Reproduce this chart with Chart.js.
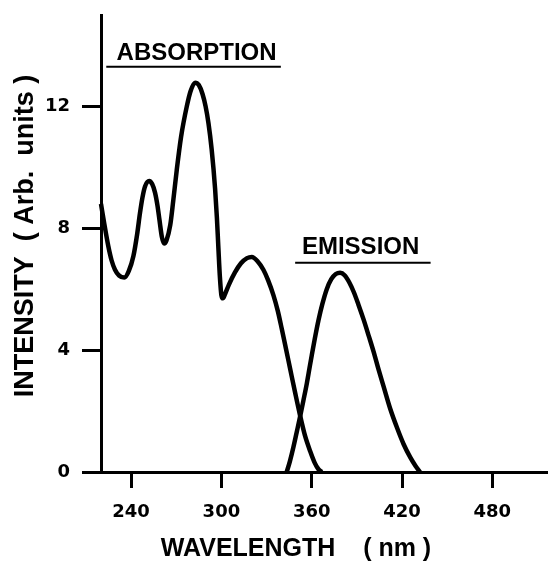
<!DOCTYPE html>
<html>
<head>
<meta charset="utf-8">
<script src="https://cdn.jsdelivr.net/npm/chart.js@4"></script>
<style>
  html, body { margin: 0; padding: 0; background: #fff; }
  #wrap { width: 548px; height: 567px; position: relative; }
</style>
</head>
<body>
<div id="wrap"><canvas id="grafico-espectro"></canvas></div>
<script>
// wavelength (nm) and intensity
var absWavelength = [220, 222, 224.9, 227, 229.3, 232, 235.5, 238.5, 241.5, 244, 245.9, 247.5, 249.3, 252, 254, 255.9, 257.5, 258.8, 260.5, 262, 263.5, 266, 268, 270.3, 273.2, 277, 279.5, 282.5, 285, 287.5, 289.5, 291.4, 293.5, 295.8, 297, 298, 299, 300, 301, 302.5, 305, 309, 313, 317, 320.2, 324, 327.9, 331, 334.6, 337.5, 340.1, 343, 345.7, 349, 352.3, 355.5, 359, 362, 364.5, 366.7];
var absIntensity  = [8.8, 8.2, 7.4, 6.95, 6.64, 6.45, 6.38, 6.6, 7.08, 7.8, 8.5, 9.0, 9.38, 9.55, 9.45, 9.17, 8.75, 8.29, 7.7, 7.5, 7.6, 8.1, 8.9, 9.9, 11.0, 12.0, 12.5, 12.78, 12.7, 12.4, 12.0, 11.45, 10.6, 9.3, 8.35, 7.35, 6.4, 5.8, 5.7, 5.85, 6.15, 6.55, 6.85, 7.02, 7.06, 6.92, 6.64, 6.3, 5.8, 5.28, 4.7, 4.02, 3.38, 2.6, 1.85, 1.2, 0.68, 0.3, 0.09, 0];

var emiWavelength = [343.4, 345.5, 347.9, 350, 352.3, 354.5, 356.8, 358.5, 360, 362, 364.5, 367, 370, 373, 376, 378.9, 382, 385, 388, 391, 394.5, 398, 401.1, 404.5, 407.8, 412, 416.7, 421, 425.5, 429, 432];
var emiIntensity  = [0, 0.35, 0.83, 1.3, 1.82, 2.35, 2.92, 3.4, 3.82, 4.36, 4.98, 5.5, 6.0, 6.33, 6.5, 6.54, 6.45, 6.22, 5.9, 5.5, 5.0, 4.45, 3.95, 3.35, 2.8, 2.1, 1.45, 0.92, 0.48, 0.2, 0];

var xTicks = [240, 300, 360, 420, 480];
var yTicks = [0, 4, 8, 12];

var seriesNames = ["ABSORPTION", "EMISSION"];
// where each series name sits, in data units: [center wavelength, intensity, underline start, underline end, underline intensity]
var nameAnchors = [[283.5, 13.75, 223.5, 339.5, 13.3], [392.5, 7.38, 349, 439, 6.87]];

function pontos(xs, ys) {
    var p = [];
    for (var i = 0; i < xs.length; i++) {
        p.push({ x: xs[i], y: ys[i] });
    }
    return p;
}

var textos = {
    id: "textos",
    afterDraw: function (chart) {
        var ctx = chart.ctx;
        var sx = chart.scales.x, sy = chart.scales.y;
        ctx.save();
        ctx.fillStyle = "#000";
        ctx.strokeStyle = "#000";
        ctx.textAlign = "center";
        ctx.textBaseline = "middle";
        ctx.font = "bold 24px 'Liberation Sans'";
        for (var i = 0; i < seriesNames.length; i++) {
            var a = nameAnchors[i];
            ctx.fillText(seriesNames[i], sx.getPixelForValue(a[0]), sy.getPixelForValue(a[1]));
            ctx.lineWidth = 2;
            ctx.beginPath();
            ctx.moveTo(sx.getPixelForValue(a[2]), sy.getPixelForValue(a[4]));
            ctx.lineTo(sx.getPixelForValue(a[3]), sy.getPixelForValue(a[4]));
            ctx.stroke();
        }
        // axis titles
        ctx.font = "bold 25px 'Liberation Sans'";
        ctx.fillText("WAVELENGTH    ( nm )", 296, 549);
        ctx.translate(26, 236);
        ctx.rotate(-Math.PI / 2);
        ctx.font = "bold 27px 'Liberation Sans'";
        ctx.fillText("INTENSITY  ( Arb.  units )", 0, 0);
        ctx.restore();
    }
};

var referencia = document.querySelector("#grafico-espectro").getContext("2d");

var grafico = new Chart(referencia, {
    type: 'line',
    data: {
        datasets: [{
            label: "Absorption",
            data: pontos(absWavelength, absIntensity),
            borderColor: "#000",
            backgroundColor: "transparent",
            borderWidth: 4.5,
            pointRadius: 0,
            cubicInterpolationMode: 'monotone',
            clip: false
        },
        {
            label: "Emission",
            data: pontos(emiWavelength, emiIntensity),
            borderColor: "#000",
            backgroundColor: "transparent",
            borderWidth: 4.5,
            pointRadius: 0,
            cubicInterpolationMode: 'monotone',
            clip: false
        }]
    },
    options: {
        responsive: true,
        maintainAspectRatio: false,
        animation: false,
        layout: { padding: { top: 15, right: 0, bottom: 0, left: 0 } },
        plugins: {
            legend: { display: false },
            tooltip: { enabled: false }
        },
        scales: {
            x: {
                type: 'linear',
                min: 220,
                max: 517,
                afterFit: function (s) { s.height = 95; s.paddingLeft = 0; s.paddingRight = 0; },
                afterBuildTicks: function (s) { s.ticks = xTicks.map(function (v) { return { value: v }; }); },
                border: { display: true, color: "#000", width: 3 },
                grid: { drawOnChartArea: false, drawTicks: true, tickLength: 16, tickWidth: 3, tickColor: "#000" },
                ticks: {
                    color: "#000",
                    padding: 14,
                    maxRotation: 0,
                    font: { family: "'DejaVu Sans'", size: 18, weight: 'bold' }
                }
            },
            y: {
                min: 0,
                max: 15,
                afterFit: function (s) { s.width = 101; s.paddingTop = 0; s.paddingBottom = 0; },
                afterBuildTicks: function (s) { s.ticks = yTicks.map(function (v) { return { value: v }; }); },
                border: { display: true, color: "#000", width: 3 },
                grid: { drawOnChartArea: false, drawTicks: true, tickLength: 19, tickWidth: 3, tickColor: "#000" },
                ticks: {
                    color: "#000",
                    padding: 12,
                    font: { family: "'DejaVu Sans'", size: 18, weight: 'bold' }
                }
            }
        }
    },
    plugins: [textos]
});
</script>
</body>
</html>
